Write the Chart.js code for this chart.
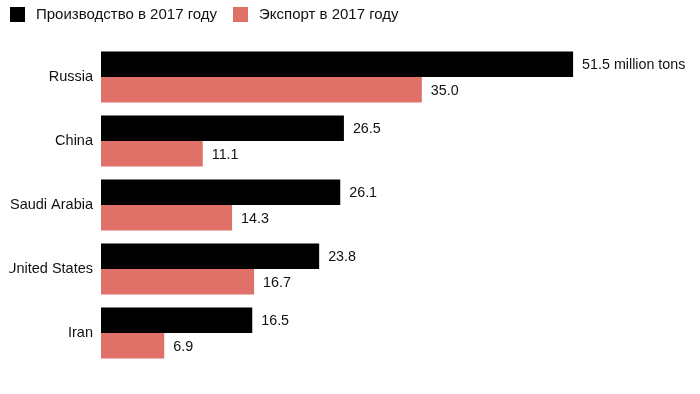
<!DOCTYPE html>
<html>
<head>
<meta charset="utf-8">
<script src="https://cdn.jsdelivr.net/npm/chart.js@4"></script>
<style>
html,body{margin:0;padding:0;background:#fff;}
#wrap{width:700px;height:394px;position:relative;}
</style>
</head>
<body>
<div id="wrap"><canvas id="bars"></canvas></div>
<script>
// data
var countries=["Russia","China","Saudi Arabia","United States","Iran"];
var production=[51.5,26.5,26.1,23.8,16.5];
var exports=[35.0,11.1,14.3,16.7,6.9];
var seriesNames=["Производство в 2017 году","Экспорт в 2017 году"];
var colors=["#000000","#df7169"];
var unit=" million tons";

var FONT="'Liberation Sans', Arial, Helvetica, sans-serif";

// legend + value labels + left clip, drawn by hand
var extras={
  id:"extras",
  beforeDraw:function(chart){
    var ctx=chart.ctx;
    ctx.save();
    ctx.beginPath();
    ctx.rect(9,0,chart.width-9,chart.height);
    ctx.clip();
  },
  afterDatasetsDraw:function(chart){
    var ctx=chart.ctx;
    ctx.save();
    ctx.font="14.3px "+FONT;
    ctx.fillStyle="#111";
    ctx.textBaseline="middle";
    ctx.textAlign="left";
    chart.data.datasets.forEach(function(ds,di){
      chart.getDatasetMeta(di).data.forEach(function(bar,i){
        var txt=ds.data[i].toFixed(1);
        if(di==0 && i==0) txt+=unit;
        ctx.fillText(txt,bar.x+9,bar.y+1);
      });
    });
    // legend
    ctx.font="15px "+FONT;
    var xs=[10,233];
    for(var k=0;k<seriesNames.length;k++){
      ctx.fillStyle=colors[k];
      ctx.fillRect(xs[k],7,15,15);
      ctx.fillStyle="#111";
      ctx.fillText(seriesNames[k],xs[k]+26,15);
    }
    ctx.restore();
  },
  afterDraw:function(chart){
    chart.ctx.restore();
  }
};

new Chart("bars",{
  type:"bar",
  data:{
    labels:countries,
    datasets:[
      {label:seriesNames[0],data:production,backgroundColor:colors[0],categoryPercentage:0.8,barPercentage:1.0},
      {label:seriesNames[1],data:exports,backgroundColor:colors[1],categoryPercentage:0.8,barPercentage:1.0}
    ]
  },
  options:{
    indexAxis:"y",
    responsive:true,
    maintainAspectRatio:false,
    animation:false,
    layout:{padding:{left:0,top:45,right:49,bottom:29}},
    plugins:{legend:{display:false},tooltip:{enabled:false}},
    scales:{
      x:{display:false,min:0,max:60},
      y:{
        grid:{display:false,drawTicks:false},
        border:{display:false},
        ticks:{color:"#111",padding:8,font:{family:FONT,size:14.5}},
        afterFit:function(s){s.width=101;}
      }
    }
  },
  plugins:[extras]
});
</script>
</body>
</html>
